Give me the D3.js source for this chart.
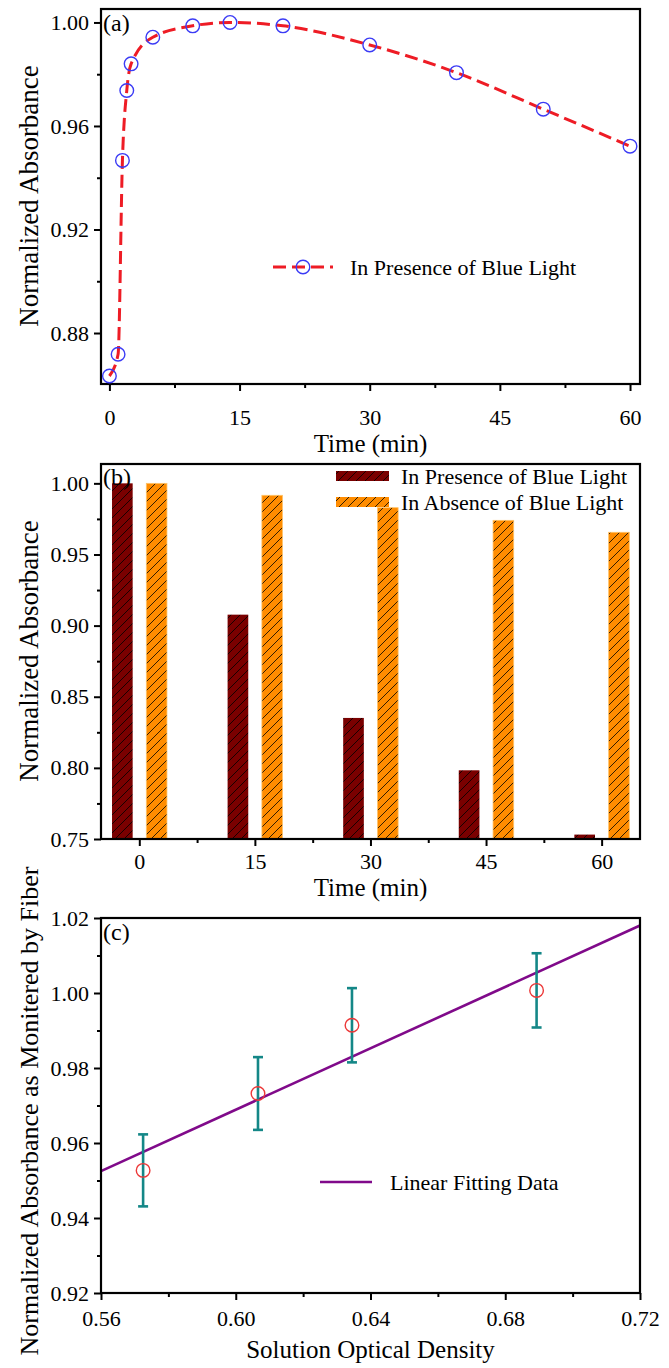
<!DOCTYPE html>
<html>
<head>
<meta charset="utf-8">
<script src="https://cdn.jsdelivr.net/npm/d3@7"></script>
<style>
body { margin: 0; background: #fff; }
</style>
</head>
<body>
<div id="chart"></div>
<script>
// (a) absorbance while the blue light is on
var timeA = [0, 1, 1.5, 2, 2.5, 5, 9.6, 13.9, 20, 30, 40, 50, 60];
var absA = [0.8634, 0.8718, 0.9467, 0.9737, 0.984, 0.9943, 0.9987, 1.0, 0.9987, 0.9913, 0.9806, 0.9665, 0.9522];

// (b) bars, with and without the light
var timeB = [0, 15, 30, 45, 60];
var withLight = [1.0, 0.9077, 0.8351, 0.7983, 0.7531];
var withoutLight = [1.0, 0.9916, 0.9829, 0.974, 0.9656];

// (c) fiber reading vs optical density
var density = [0.5725, 0.6066, 0.6345, 0.6893];
var fiberAbs = [0.9527, 0.9732, 0.9914, 1.0007];
var fiberErr = [0.0096, 0.0097, 0.0099, 0.0099];
var fitX = [0.56, 0.72];
var fitY = [0.9525, 1.018];

var timeTicks = [0, 15, 30, 45, 60];
var timeMinor = [7.5, 22.5, 37.5, 52.5];
var ticksA = [0.88, 0.92, 0.96, 1.00];
var minorA = [0.90, 0.94, 0.98];
var ticksB = [0.75, 0.80, 0.85, 0.90, 0.95, 1.00];
var minorB = [0.775, 0.825, 0.875, 0.925, 0.975];
var ticksCy = [0.92, 0.94, 0.96, 0.98, 1.00, 1.02];
var minorCy = [0.93, 0.95, 0.97, 0.99, 1.01];
var ticksCx = [0.56, 0.60, 0.64, 0.68, 0.72];
var minorCx = [0.58, 0.62, 0.66, 0.70];

var FONT = '"Liberation Serif", "Times New Roman", Times, serif';
var width = 669, height = 1368,
    left = 101, right = 640;

var svg = d3.select('#chart').append('svg')
    .attr('width', width)
    .attr('height', height)
    .style('font-family', FONT);

var defs = svg.append('defs');
function hatch(id, bg) {
    var p = defs.append('pattern')
        .attr('id', id)
        .attr('patternUnits', 'userSpaceOnUse')
        .attr('width', 9).attr('height', 9);
    p.append('rect').attr('width', 9).attr('height', 9).attr('fill', bg);
    p.append('path')
        .attr('d', 'M-1,1 l2,-2 M0,9 l9,-9 M8,10 l2,-2')
        .attr('stroke', '#000').attr('stroke-width', 0.8);
}
hatch('hatchDark', '#7a0000');
hatch('hatchOrange', '#ff8c00');

// frame, ticks and labels for one panel
function panel(top, bottom, x, y, xt, xm, yt, ym, fx, fy, padX) {
    var g = svg.append('g');
    g.append('g')
        .attr('transform', 'translate(0,' + bottom + ')')
        .call(d3.axisBottom(x).tickValues(xm).tickSize(4).tickFormat(''));
    g.append('g')
        .attr('transform', 'translate(0,' + bottom + ')')
        .call(d3.axisBottom(x).tickValues(xt).tickSize(7).tickPadding(padX).tickFormat(fx));
    g.append('g')
        .attr('transform', 'translate(' + left + ',0)')
        .call(d3.axisLeft(y).tickValues(ym).tickSize(4).tickFormat(''));
    g.append('g')
        .attr('transform', 'translate(' + left + ',0)')
        .call(d3.axisLeft(y).tickValues(yt).tickSize(7).tickPadding(5).tickFormat(fy));
    g.selectAll('g').attr('font-family', FONT).attr('font-size', 22);
    g.selectAll('.domain').remove();
    g.selectAll('.tick line').attr('stroke', '#000').attr('stroke-width', 2);
    g.selectAll('.tick text').attr('fill', '#000');
    g.append('rect')
        .attr('x', left).attr('y', top)
        .attr('width', right - left).attr('height', bottom - top)
        .attr('fill', 'none').attr('stroke', '#000').attr('stroke-width', 2.2);
    return g;
}

function label(x, y, txt, size) {
    return svg.append('text')
        .attr('x', x).attr('y', y)
        .attr('dy', '0.35em')
        .attr('font-family', FONT)
        .attr('font-size', size)
        .attr('fill', '#000')
        .text(txt);
}
function yTitle(txt, cy, size) {
    label(0, 0, txt, size)
        .attr('transform', 'translate(29,' + cy + ') rotate(-90)')
        .attr('text-anchor', 'middle');
}
function xTitle(txt, cy) {
    label((left + right) / 2, cy, txt, 25).attr('text-anchor', 'middle');
}

// ---------- (a) ----------
var xa = d3.scaleLinear().domain([-0.97, 61.15]).range([left, right]);
var ya = d3.scaleLinear().domain([0.8603, 1.0052]).range([384, 9]);
panel(9, 384, xa, ya, timeTicks, timeMinor, ticksA, minorA, d3.format('d'), d3.format('.2f'), 18);

var lineA = d3.line()
    .x(function (d, i) { return xa(timeA[i]); })
    .y(function (d) { return ya(d); })
    .curve(d3.curveMonotoneX);

svg.append('path')
    .attr('d', lineA(absA))
    .attr('fill', 'none')
    .attr('stroke', '#ee1c25')
    .attr('stroke-width', 3)
    .attr('stroke-dasharray', '13,6');

svg.selectAll('.ptA')
    .data(absA)
    .enter().append('circle')
    .attr('class', 'ptA')
    .attr('cx', function (d, i) { return xa(timeA[i]); })
    .attr('cy', function (d) { return ya(d); })
    .attr('r', 6.8)
    .attr('fill', 'none')
    .attr('stroke', '#3b3bf5')
    .attr('stroke-width', 1.4);

svg.append('line')
    .attr('x1', 273).attr('x2', 333).attr('y1', 267).attr('y2', 267)
    .attr('stroke', '#ee1c25').attr('stroke-width', 3).attr('stroke-dasharray', '13,6');
svg.append('circle')
    .attr('cx', 303).attr('cy', 267).attr('r', 6.8)
    .attr('fill', 'none').attr('stroke', '#3b3bf5').attr('stroke-width', 1.4);
label(350, 267, 'In Presence of Blue Light', 22);

label(103, 23, '(a)', 24);
yTitle('Normalized Absorbance', 196, 27);
xTitle('Time (min)', 443);

// ---------- (b) ----------
var xb = d3.scaleLinear().domain([-4.97, 64.98]).range([left, right]);
var yb = d3.scaleLinear().domain([0.75, 1.0136]).range([839, 464]);
var barW = 2.68, offDark = -2.2, offOrange = 2.25;

svg.selectAll('.barDark')
    .data(withLight)
    .enter().append('rect')
    .attr('class', 'barDark')
    .attr('x', function (d, i) { return xb(timeB[i] + offDark - barW / 2); })
    .attr('width', xb(barW) - xb(0))
    .attr('y', function (d) { return yb(d); })
    .attr('height', function (d) { return yb(0.75) - yb(d); })
    .attr('fill', 'url(#hatchDark)');

svg.selectAll('.barOrange')
    .data(withoutLight)
    .enter().append('rect')
    .attr('class', 'barOrange')
    .attr('x', function (d, i) { return xb(timeB[i] + offOrange - barW / 2); })
    .attr('width', xb(barW) - xb(0))
    .attr('y', function (d) { return yb(d); })
    .attr('height', function (d) { return yb(0.75) - yb(d); })
    .attr('fill', 'url(#hatchOrange)')
    .attr('stroke', '#ffc46a')
    .attr('stroke-width', 0.8);

panel(464, 839, xb, yb, timeTicks, timeMinor, ticksB, minorB, d3.format('d'), d3.format('.2f'), 7);

var legB = [['In Presence of Blue Light', 'url(#hatchDark)', 476],
            ['In Absence of Blue Light', 'url(#hatchOrange)', 502]];
legB.forEach(function (l) {
    svg.append('rect')
        .attr('x', 336).attr('y', l[2] - 5)
        .attr('width', 53).attr('height', 10)
        .attr('fill', l[1]);
    label(401, l[2], l[0], 22);
});

label(103, 477, '(b)', 24);
yTitle('Normalized Absorbance', 651, 27);
xTitle('Time (min)', 887);

// ---------- (c) ----------
var xc = d3.scaleLinear().domain([0.56, 0.72]).range([left, right]);
var yc = d3.scaleLinear().domain([0.92, 1.02]).range([1293, 918]);

svg.append('line')
    .attr('x1', xc(fitX[0])).attr('y1', yc(fitY[0]))
    .attr('x2', xc(fitX[1])).attr('y2', yc(fitY[1]))
    .attr('stroke', '#800a8a').attr('stroke-width', 2.6);

var err = svg.selectAll('.err')
    .data(fiberAbs)
    .enter().append('g')
    .attr('class', 'err')
    .attr('stroke', '#148787')
    .attr('stroke-width', 2.6);
err.append('line')
    .attr('x1', function (d, i) { return xc(density[i]); })
    .attr('x2', function (d, i) { return xc(density[i]); })
    .attr('y1', function (d, i) { return yc(d - fiberErr[i]); })
    .attr('y2', function (d, i) { return yc(d + fiberErr[i]); });
err.append('line')
    .attr('x1', function (d, i) { return xc(density[i]) - 5; })
    .attr('x2', function (d, i) { return xc(density[i]) + 5; })
    .attr('y1', function (d, i) { return yc(d - fiberErr[i]); })
    .attr('y2', function (d, i) { return yc(d - fiberErr[i]); });
err.append('line')
    .attr('x1', function (d, i) { return xc(density[i]) - 5; })
    .attr('x2', function (d, i) { return xc(density[i]) + 5; })
    .attr('y1', function (d, i) { return yc(d + fiberErr[i]); })
    .attr('y2', function (d, i) { return yc(d + fiberErr[i]); });

svg.selectAll('.ptC')
    .data(fiberAbs)
    .enter().append('circle')
    .attr('class', 'ptC')
    .attr('cx', function (d, i) { return xc(density[i]); })
    .attr('cy', function (d) { return yc(d); })
    .attr('r', 6.8)
    .attr('fill', 'none')
    .attr('stroke', '#ec3838')
    .attr('stroke-width', 1.4);

panel(918, 1293, xc, yc, ticksCx, minorCx, ticksCy, minorCy, d3.format('.2f'), d3.format('.2f'), 10);

svg.append('line')
    .attr('x1', 320).attr('x2', 372).attr('y1', 1182).attr('y2', 1182)
    .attr('stroke', '#800a8a').attr('stroke-width', 2.6);
label(390, 1182, 'Linear Fitting Data', 22);

label(103, 932, '(c)', 24);
yTitle('Normalized Absorbance as Monitered by Fiber', 1111, 26);
xTitle('Solution Optical Density', 1349);
</script>
</body>
</html>
